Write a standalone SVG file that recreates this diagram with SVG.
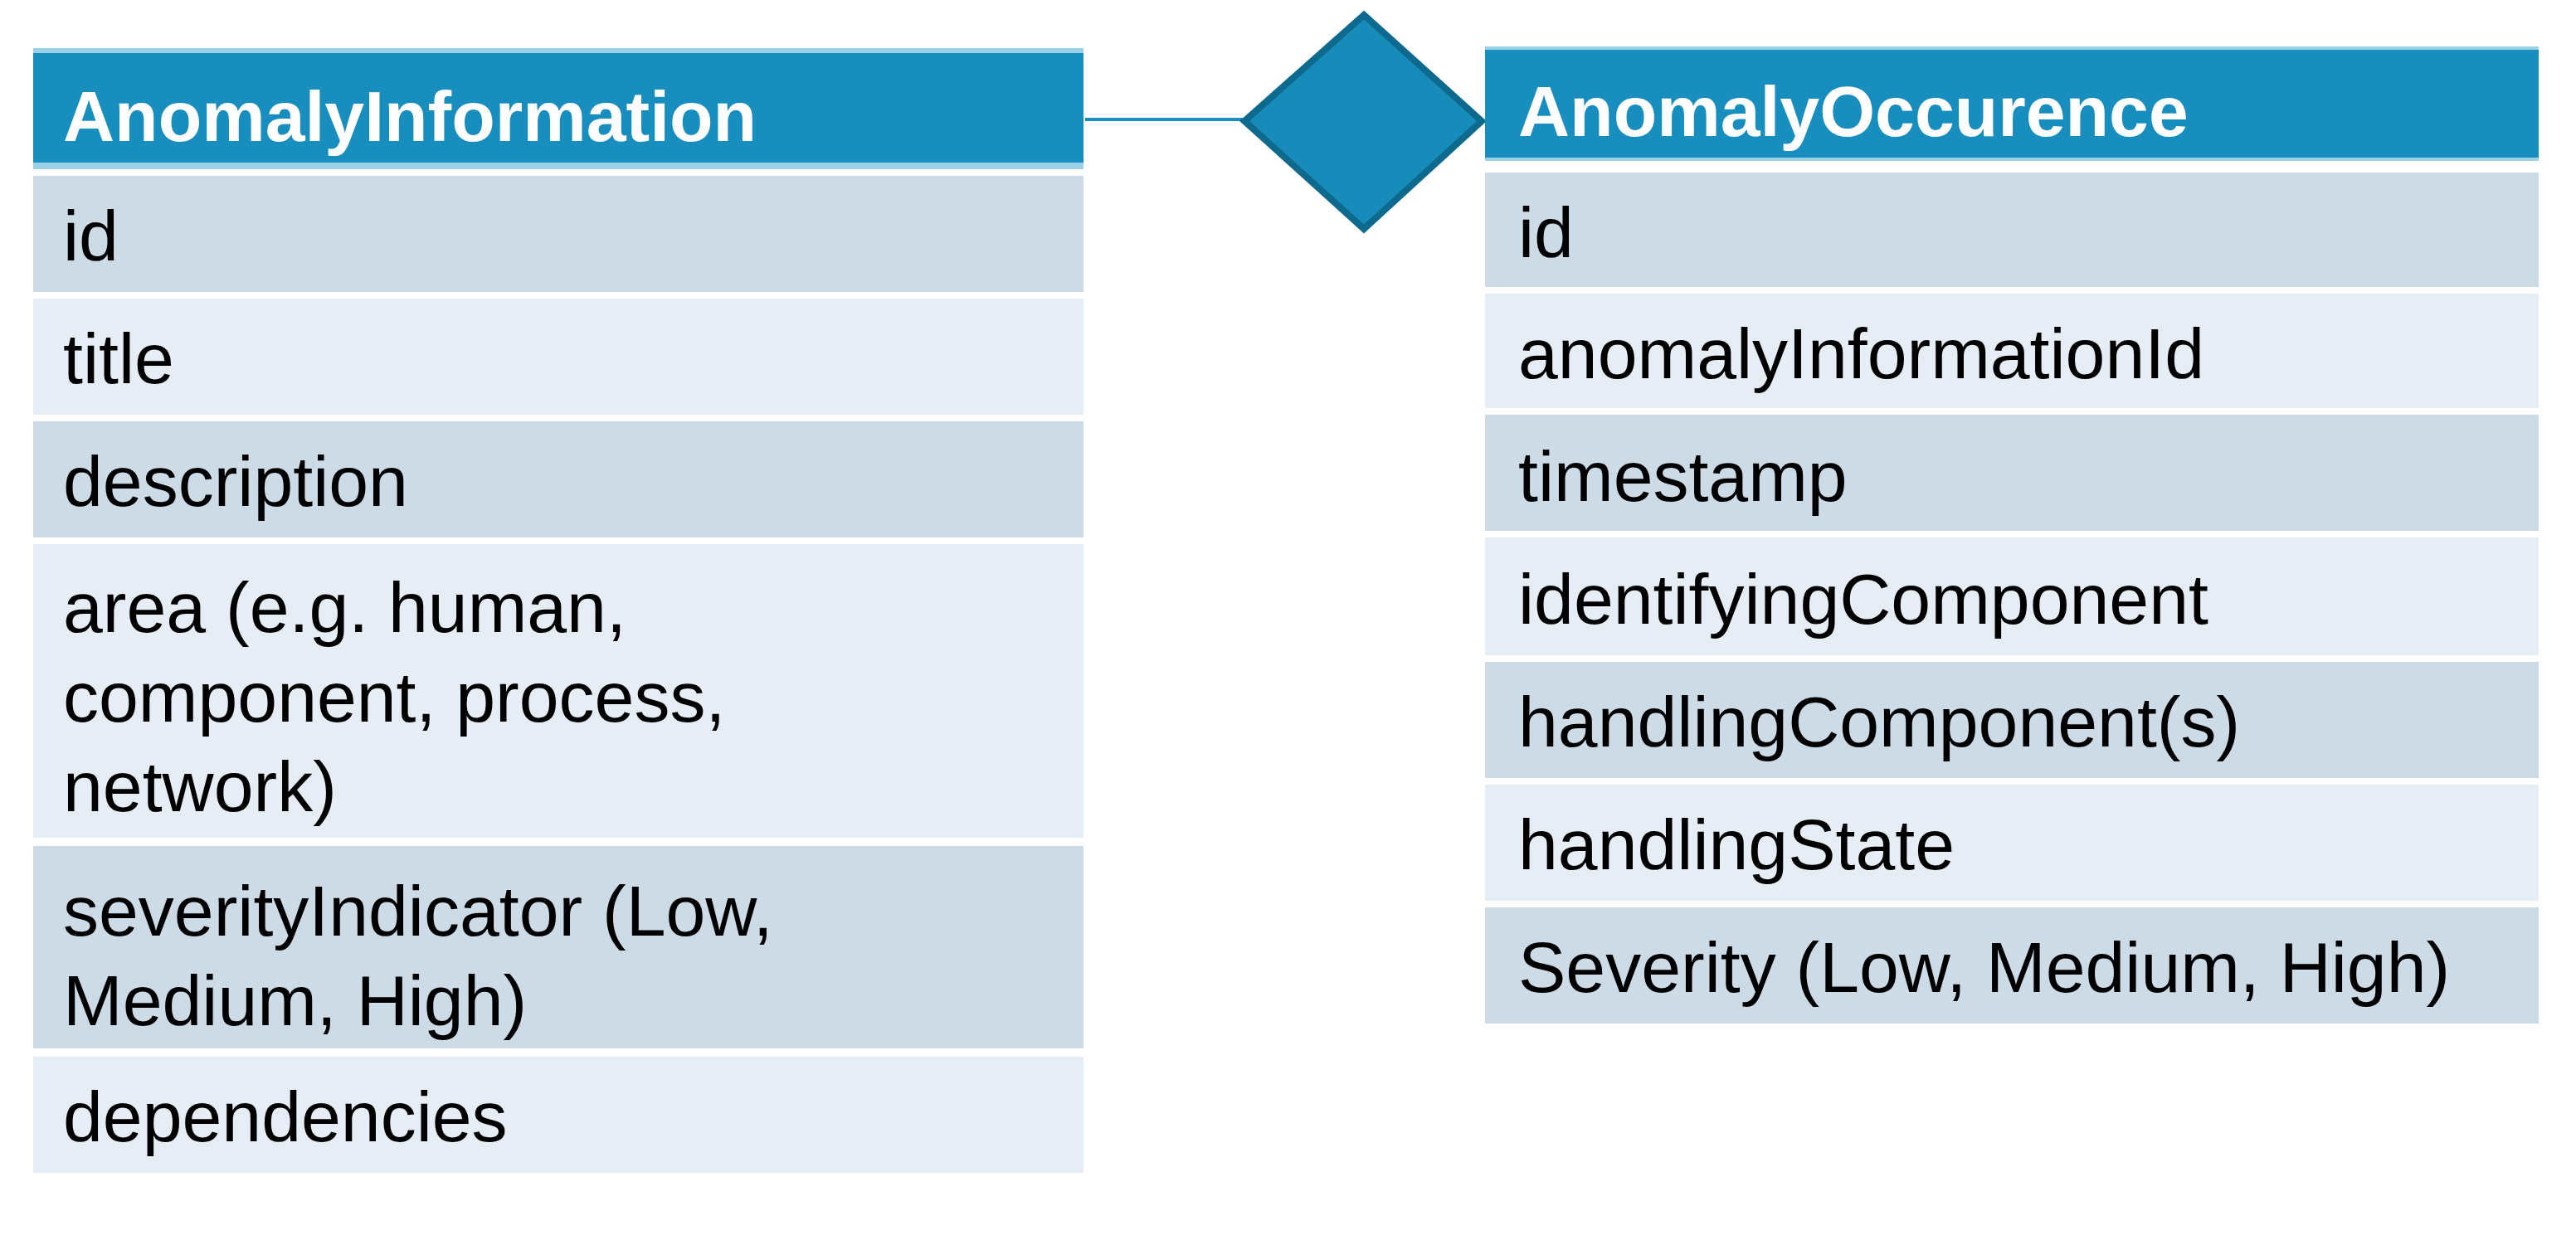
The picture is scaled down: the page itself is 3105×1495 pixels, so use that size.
<svg xmlns="http://www.w3.org/2000/svg" width="3105" height="1495" viewBox="0 0 3105 1495">
<style>
.hd{fill:#178EBD}
.hb{fill:#9CD0E5}
.dk{fill:#CDDBE7}
.lt{fill:#E6EDF4}
.t{font-family:"Liberation Sans",Arial,sans-serif;font-size:86px;fill:#000}
.h{font-family:"Liberation Sans",Arial,sans-serif;font-size:86px;font-weight:bold;fill:#fff}
</style>
<rect width="3105" height="1495" fill="#fff"/>
<g id="connectors">
<line x1="1308" y1="144" x2="1500" y2="144" stroke="#178EBD" stroke-width="4"/>
</g>
<g id="relation">
<polygon points="1644,18 1786,146 1644,276 1500,146" fill="#178CBA" stroke="#0E6A8C" stroke-width="8"/>
</g>
<g id="AnomalyInformation">
<rect class="hb" x="40" y="58" width="1266" height="146"/>
<rect class="hd" x="40" y="64" width="1266" height="132"/>
<text class="h" x="76" y="170">AnomalyInformation</text>
<rect class="dk" x="40" y="212" width="1266" height="140"/>
<text class="t" x="76" y="314">id</text>
<rect class="lt" x="40" y="360" width="1266" height="140"/>
<text class="t" x="76" y="462">title</text>
<rect class="dk" x="40" y="508" width="1266" height="140"/>
<text class="t" x="76" y="610">description</text>
<rect class="lt" x="40" y="656" width="1266" height="354"/>
<text class="t" x="76" y="762">area (e.g. human,</text>
<text class="t" x="76" y="870">component,  process,</text>
<text class="t" x="76" y="978">network)</text>
<rect class="dk" x="40" y="1020" width="1266" height="244"/>
<text class="t" x="76" y="1128">severityIndicator (Low,</text>
<text class="t" x="76" y="1236">Medium,  High)</text>
<rect class="lt" x="40" y="1274" width="1266" height="140"/>
<text class="t" x="76" y="1376">dependencies</text>
</g>
<g id="AnomalyOccurence">
<rect class="hb" x="1790" y="56" width="1270" height="138"/>
<rect class="hd" x="1790" y="60" width="1270" height="130"/>
<text class="h" x="1830" y="164">AnomalyOccurence</text>
<rect class="dk" x="1790" y="208" width="1270" height="138"/>
<text class="t" x="1830" y="310">id</text>
<rect class="lt" x="1790" y="354" width="1270" height="138"/>
<text class="t" x="1830" y="456">anomalyInformationId</text>
<rect class="dk" x="1790" y="500" width="1270" height="140"/>
<text class="t" x="1830" y="604">timestamp</text>
<rect class="lt" x="1790" y="648" width="1270" height="142"/>
<text class="t" x="1830" y="752">identifyingComponent</text>
<rect class="dk" x="1790" y="798" width="1270" height="140"/>
<text class="t" x="1830" y="900">handlingComponent(s)</text>
<rect class="lt" x="1790" y="946" width="1270" height="140"/>
<text class="t" x="1830" y="1048">handlingState</text>
<rect class="dk" x="1790" y="1094" width="1270" height="140"/>
<text class="t" x="1830" y="1196">Severity (Low, Medium,  High)</text>
</g>
</svg>
